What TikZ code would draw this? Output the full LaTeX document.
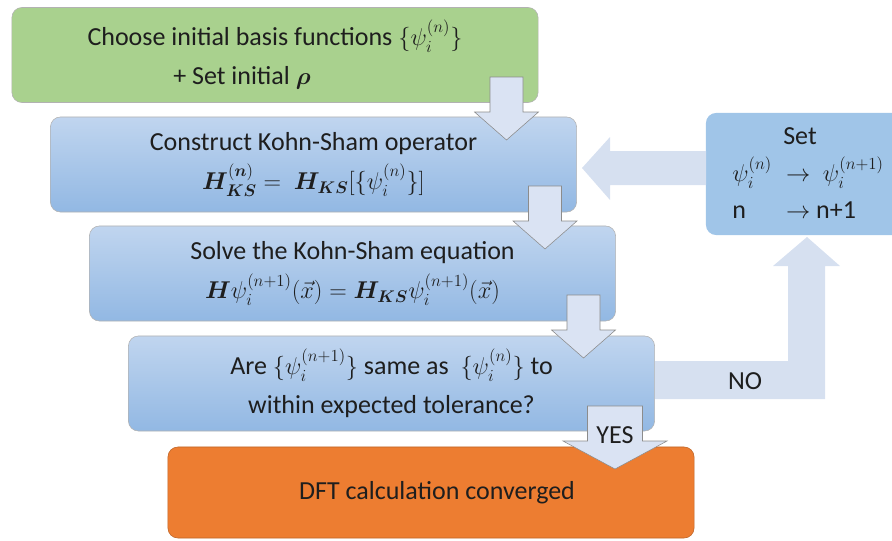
\documentclass[tikz,border=0pt]{standalone}
\usepackage{amsmath,amssymb}
\usepackage{bm}
\usepackage[no-math]{fontspec}
\setmainfont{Carlito}
\usepackage{tikz}
\usetikzlibrary{arrows.meta}

\definecolor{greenbox}{RGB}{169,209,142}
\definecolor{bluetop}{RGB}{192,213,239}
\definecolor{bluebot}{RGB}{146,184,227}
\definecolor{setblue}{RGB}{160,197,232}
\definecolor{orangebox}{RGB}{237,125,49}
\definecolor{arrowfill}{RGB}{218,227,243}
\definecolor{loopfill}{RGB}{214,224,240}
\definecolor{textdark}{RGB}{30,30,30}

\newcommand{\blockdown}[6]{% centre, top, head base, tip, shaft half, head half
  \filldraw[blockarrow] (#1-#5,#2) -- (#1+#5,#2) -- (#1+#5,#3) -- (#1+#6,#3)
    -- (#1,#4) -- (#1-#6,#3) -- (#1-#5,#3) -- cycle;}

\begin{document}
\begin{tikzpicture}[x=0.025cm,y=-0.025cm,
  every node/.style={text=textdark,font=\fontsize{18.5}{28}\selectfont},
  stepbox/.style={rectangle,rounded corners=0.25cm,draw=black!30,thin,
    minimum width=13.15cm,minimum height=2.375cm,align=center,inner sep=0pt},
  bluebox/.style={stepbox,top color=bluetop,bottom color=bluebot},
  blockarrow/.style={fill=arrowfill,draw=black!45,thin,line join=miter},
  looparrow/.style={fill=loopfill,draw=none}]

\useasboundingbox (0,0) rectangle (892,540);

% boxes
\node[stepbox,fill=greenbox] (init) at (275,55)
  {Choose initial basis functions $\{\psi_i^{(n)}\}$\\
   + Set initial $\bm{\rho}$\hspace*{1.65cm}};
\node[bluebox] (construct) at (313.5,164.5)
  {Construct Kohn-Sham operator\\
   $\bm{H}_{\bm{KS}}^{(\bm{n})} = \ \bm{H}_{\bm{KS}}[\{\psi_i^{(n)}\}]$};
\node[bluebox] (solve) at (352.5,273.5)
  {Solve the Kohn-Sham equation\\
   $\bm{H}\psi_i^{(n+1)}(\vec{x}) = \bm{H}_{\bm{KS}}\psi_i^{(n+1)}(\vec{x})$};
\node[bluebox] (check) at (391.5,383.5)
  {Are $\{\psi_i^{(n+1)}\}$ same as \ $\{\psi_i^{(n)}\}$ to\\
   within expected tolerance?};
\node[stepbox,fill=orangebox,draw=orangebox!80!black,minimum height=2.275cm]
  (done) at (431,492.5) {\hspace*{0.3cm}DFT calculation converged};
\node[rectangle,rounded corners=0.25cm,fill=setblue,minimum width=5.2cm,
  minimum height=3.05cm] (update) at (810,174) {};
\node (settitle) at (800,136) {Set};
\node[anchor=west,inner sep=0pt] (setrule) at (732,192)
  {\begin{tabular}{@{}l@{\hspace{0.35cm}}l@{}}
   $\psi_i^{(n)}$ & $\rightarrow\ \psi_i^{(n+1)}$\\[-2pt]
   n & $\rightarrow$ n+1
   \end{tabular}};

% loop arrows
\fill[looparrow] (706,151) -- (610,151) -- (610,137) -- (582,168)
  -- (610,200) -- (610,185) -- (706,185) -- cycle;
\fill[looparrow] (655,361) -- (788,361) -- (788,266) -- (773,266) -- (807,237)
  -- (840,266) -- (825,266) -- (825,399) -- (655,399) -- cycle;
\node (no) at (745,381) {NO};

% down arrows
\blockdown{506.5}{77}{112}{140}{16.5}{32}
\blockdown{545}{186}{221}{249}{16.5}{32}
\blockdown{583.5}{295}{330}{358}{16.5}{32}
\blockdown{615}{406}{441}{469}{27.5}{52}
\node (yes) at (615,435) {YES};

\end{tikzpicture}
\end{document}
